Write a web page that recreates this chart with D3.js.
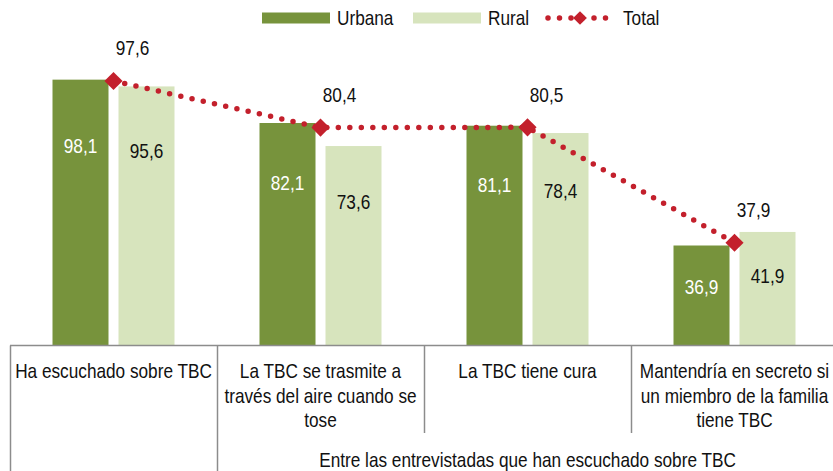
<!DOCTYPE html>
<html>
<head>
<meta charset="utf-8">
<script src="https://cdn.jsdelivr.net/npm/d3@7"></script>
<style>
    body { margin: 0; background: #fff; }
    svg text { font-family: "Liberation Sans", Arial, sans-serif; }
</style>
</head>
<body>
<div id="chart"></div>
<script>

// categorías (con saltos de línea como en el original)
var categories = [
    ["Ha escuchado sobre TBC"],
    ["La TBC se trasmite a", "través del aire cuando se", "tose"],
    ["La TBC tiene cura"],
    ["Mantendría en secreto si", "un miembro de la familia", "tiene TBC"]
];
var urbana = [98.1, 82.1, 81.1, 36.9];
var rural  = [95.6, 73.6, 78.4, 41.9];
var total  = [97.6, 80.4, 80.5, 37.9];
var series = ["Urbana", "Rural", "Total"];
var groupLabel = "Entre las entrevistadas que han escuchado sobre TBC";

var width = 833, height = 471;
var colors = { Urbana: "#77933c", Rural: "#d7e4bd", Total: "#c3202c" };
var axisColor = "#8c8c8c";
var fs = 21;
var narrow = 0.82; // Arial Narrow no está instalada: se estrecha la fuente

var fmt = function(v){ return d3.format(".1f")(v).replace(".", ","); };

var svg = d3.select("#chart").append("svg")
    .attr("width", width)
    .attr("height", height);

// texto estrecho centrado en (x, y)
function narrowText(sel, x, y, anchor) {
    return sel.append("text")
        .attr("transform", "translate(" + x + "," + y + ") scale(" + narrow + ",1)")
        .attr("dy", "0.35em")
        .attr("text-anchor", anchor || "middle")
        .attr("font-size", fs)
        .attr("fill", "#111");
}

var ids = categories.map(function(d, i){ return i; });

var x0 = d3.scaleBand()
    .domain(ids)
    .range([10, 838]);

var x1 = d3.scaleBand()
    .domain(["Urbana", "Rural"])
    .range([x0.bandwidth() / 2 - 61, x0.bandwidth() / 2 + 61])
    .paddingInner(10 / 66);

var y = d3.scaleLinear()
    .domain([0, 100])
    .range([345.5, 74.5]);

var rows = ids.map(function(i){
    return { i: i, Urbana: urbana[i], Rural: rural[i], Total: total[i] };
});

/* barras */
rows.forEach(function(d){
    ["Urbana", "Rural"].forEach(function(k){
        var bx = x0(d.i) + x1(k);
        svg.append("rect")
            .attr("x", bx)
            .attr("width", x1.bandwidth())
            .attr("y", y(d[k]))
            .attr("height", y(0) - y(d[k]))
            .attr("fill", colors[k]);

        narrowText(svg, bx + x1.bandwidth() / 2, y(d[k] * 0.855 - 10))
            .attr("fill", k === "Urbana" ? "#fff" : "#111")
            .text(fmt(d[k]));
    });
});

/* eje y separadores */
svg.append("line")
    .attr("x1", 10).attr("x2", width)
    .attr("y1", y(0)).attr("y2", y(0))
    .attr("stroke", axisColor).attr("stroke-width", 1.5);

ids.forEach(function(i){
    var xx = Math.round(x0(i)) + 0.5;
    svg.append("line")
        .attr("x1", xx).attr("x2", xx)
        .attr("y1", y(0)).attr("y2", i < 2 ? height : 433)
        .attr("stroke", axisColor).attr("stroke-width", 1.5);
});

/* etiquetas de categoría */
rows.forEach(function(d){
    categories[d.i].forEach(function(l, j){
        narrowText(svg, x0(d.i) + x0.bandwidth() / 2, 371 + j * 24.5).text(l);
    });
});

narrowText(svg, (x0(1) + x0(3) + x0.bandwidth()) / 2, 460).text(groupLabel);

/* línea total */
var line = d3.line()
    .x(function(d){ return x0(d.i) + x0.bandwidth() / 2; })
    .y(function(d){ return y(d.Total); });

svg.append("path")
    .datum(rows)
    .attr("d", line)
    .attr("fill", "none")
    .attr("stroke", colors.Total)
    .attr("stroke-width", 5.5)
    .attr("stroke-linecap", "round")
    .attr("stroke-dasharray", "0 11.5");

var diamond = d3.symbol().type(d3.symbolDiamond2).size(210);

svg.selectAll(".mk")
    .data(rows)
    .enter()
    .append("path")
    .attr("class", "mk")
    .attr("d", diamond)
    .attr("transform", function(d){ return "translate(" + (x0(d.i) + x0.bandwidth() / 2) + "," + y(d.Total) + ")"; })
    .attr("fill", colors.Total);

rows.forEach(function(d){
    narrowText(svg, x0(d.i) + x0.bandwidth() / 2 + 19, y(d.Total) - 33).text(fmt(d.Total));
});

/* leyenda */
var legX = [262, 413, 545];

series.forEach(function(s, i){
    var g = svg.append("g").attr("transform", "translate(" + legX[i] + ",18)");
    if (s === "Total") {
        g.append("line")
            .attr("x1", 3).attr("x2", 65)
            .attr("stroke", colors.Total)
            .attr("stroke-width", 5.5)
            .attr("stroke-linecap", "round")
            .attr("stroke-dasharray", "0 11.5");
        g.append("path")
            .attr("d", d3.symbol().type(d3.symbolDiamond2).size(120))
            .attr("transform", "translate(35,0)")
            .attr("fill", colors.Total);
    } else {
        g.append("rect")
            .attr("x", 0).attr("y", -5.5)
            .attr("width", 68).attr("height", 11)
            .attr("fill", colors[s]);
    }
    narrowText(g, s === "Total" ? 78 : 75, 0, "start").text(s);
});

</script>
</body>
</html>
